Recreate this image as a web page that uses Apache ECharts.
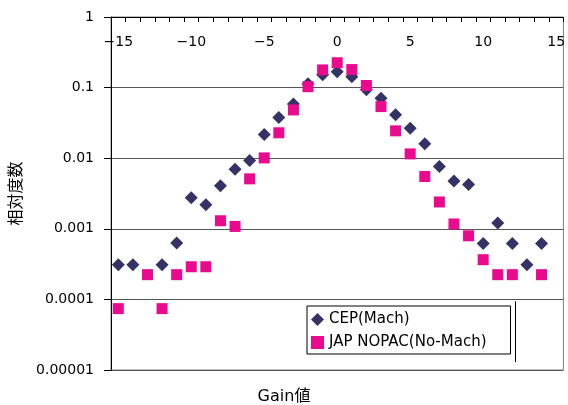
<!DOCTYPE html>
<html><head><meta charset="utf-8">
<script src="https://cdn.jsdelivr.net/npm/echarts@6/dist/echarts.min.js"></script>
<style>html,body{margin:0;padding:0;background:#fff}#c{width:568px;height:405px}</style>
</head><body><div id="c"></div>
<script>
const gains = [-15,-14,-13,-12,-11,-10,-9,-8,-7,-6,-5,-4,-3,-2,-1,0,1,2,3,4,5,6,7,8,9,10,11,12,13,14,15];
const cepMach = [3.1e-4,3.1e-4,null,3.1e-4,6.3e-4,2.75e-3,2.19e-3,4.07e-3,7.0e-3,9.3e-3,0.0216,0.0377,0.0588,0.113,0.152,0.168,0.142,0.093,0.0706,0.0411,0.0266,0.016,7.65e-3,4.75e-3,4.25e-3,6.2e-4,1.21e-3,6.2e-4,3.1e-4,6.2e-4,null];
const japNopac = [7.4e-5,null,2.24e-4,7.4e-5,2.24e-4,2.9e-4,2.9e-4,1.30e-3,1.08e-3,5.1e-3,0.0101,0.0229,0.0483,0.103,0.178,0.225,0.18,0.107,0.0538,0.0244,0.0115,5.5e-3,2.4e-3,1.17e-3,7.96e-4,3.65e-4,2.24e-4,2.24e-4,null,2.24e-4,null];
const yTickLabels = ['0.00001','0.0001','0.001','0.01','0.1','1'];
const seriesNames = ['CEP(Mach)','JAP NOPAC(No-Mach)'];
const xTitle = 'Gain値';
const yTitle = '相対度数';
const markerLine = {x: 12, shift: 0.16, yTop: 9.4e-5, yBottom: 1.29e-5};

const FONT = "'DejaVu Sans','Noto Sans CJK JP',sans-serif";
const chart = echarts.init(document.getElementById('c'), null, {renderer:'canvas'});
const fix = a => a.map(v => v == null ? '-' : v);
chart.setOption({
  animation: false,
  backgroundColor: '#fff',
  textStyle: {fontFamily: FONT},
  grid: {left: 111, top: 17, width: 455, height: 353, show: true, borderColor: '#808080', borderWidth: 1, backgroundColor: '#fff'},
  xAxis: {
    type: 'category', data: gains.map(String), position: 'top', boundaryGap: true,
    axisLine: {show: true, lineStyle: {color: '#000', width: 1}},
    axisTick: {show: true, inside: true, length: 5, interval: 0, lineStyle: {color: '#000'}},
    axisLabel: {inside: true, margin: 18, fontSize: 14, color: '#000', interval: 0,
      formatter: v => { const n = Number(v); return n % 5 === 0 ? String(n).replace('-', '\u2212') : ''; }},
    splitLine: {show: false}
  },
  yAxis: {
    type: 'log', logBase: 10, min: 0.00001, max: 1, splitNumber: 5,
    name: yTitle, nameLocation: 'middle', nameRotate: 90, nameGap: 77,
    nameTextStyle: {fontSize: 16, color: '#000', fontFamily: FONT},
    axisLine: {show: true, lineStyle: {color: '#000', width: 1}},
    axisTick: {show: true, inside: false, length: 7, lineStyle: {color: '#000'}},
    axisLabel: {margin: 17, fontSize: 14, color: '#000',
      formatter: v => { const e = Math.round(Math.log10(v)); return yTickLabels[e + 5]; }},
    splitLine: {show: true, lineStyle: {color: '#555', width: 1}},
    minorTick: {show: false}
  },
  legend: {
    orient: 'vertical', left: 307, top: 306,
    padding: [6, 24, 4, 4], itemGap: 8, itemWidth: 13, itemHeight: 13,
    backgroundColor: '#fff', borderColor: '#000', borderWidth: 1,
    textStyle: {fontSize: 15, color: '#000', fontFamily: FONT},
    data: [{name: seriesNames[0], icon: 'diamond'}, {name: seriesNames[1], icon: 'rect'}]
  },
  graphic: [{type: 'text', left: 'center', top: 389, style: {text: xTitle, fill: '#000', font: '16px ' + FONT}}],
  series: [
    {name: seriesNames[0], type: 'scatter', symbol: 'diamond', symbolSize: 13,
     itemStyle: {color: '#333366', opacity: 1}, data: fix(cepMach), z: 3},
    {name: seriesNames[1], type: 'scatter', symbol: 'rect', symbolSize: 11,
     itemStyle: {color: '#EA0A8E', opacity: 1}, data: fix(japNopac), z: 4}
  ]
});
// thin vertical line near gain 12, positioned through the axes
const idx = gains.indexOf(markerLine.x);
const pA = chart.convertToPixel({xAxisIndex: 0, yAxisIndex: 0}, [idx, markerLine.yTop]);
const pB = chart.convertToPixel({xAxisIndex: 0, yAxisIndex: 0}, [idx + 1, markerLine.yBottom]);
const pC = chart.convertToPixel({xAxisIndex: 0, yAxisIndex: 0}, [idx, markerLine.yBottom]);
const lx = Math.round(pA[0] + (pB[0] - pC[0]) * markerLine.shift) + 0.5;
chart.setOption({graphic: [
  {type: 'text', left: 'center', top: 389, style: {text: xTitle, fill: '#000', font: '16px ' + FONT}},
  {type: 'line', shape: {x1: lx, y1: pA[1], x2: lx, y2: pC[1]}, style: {stroke: '#000', lineWidth: 1}, z: 100}
]});
</script></body></html>
